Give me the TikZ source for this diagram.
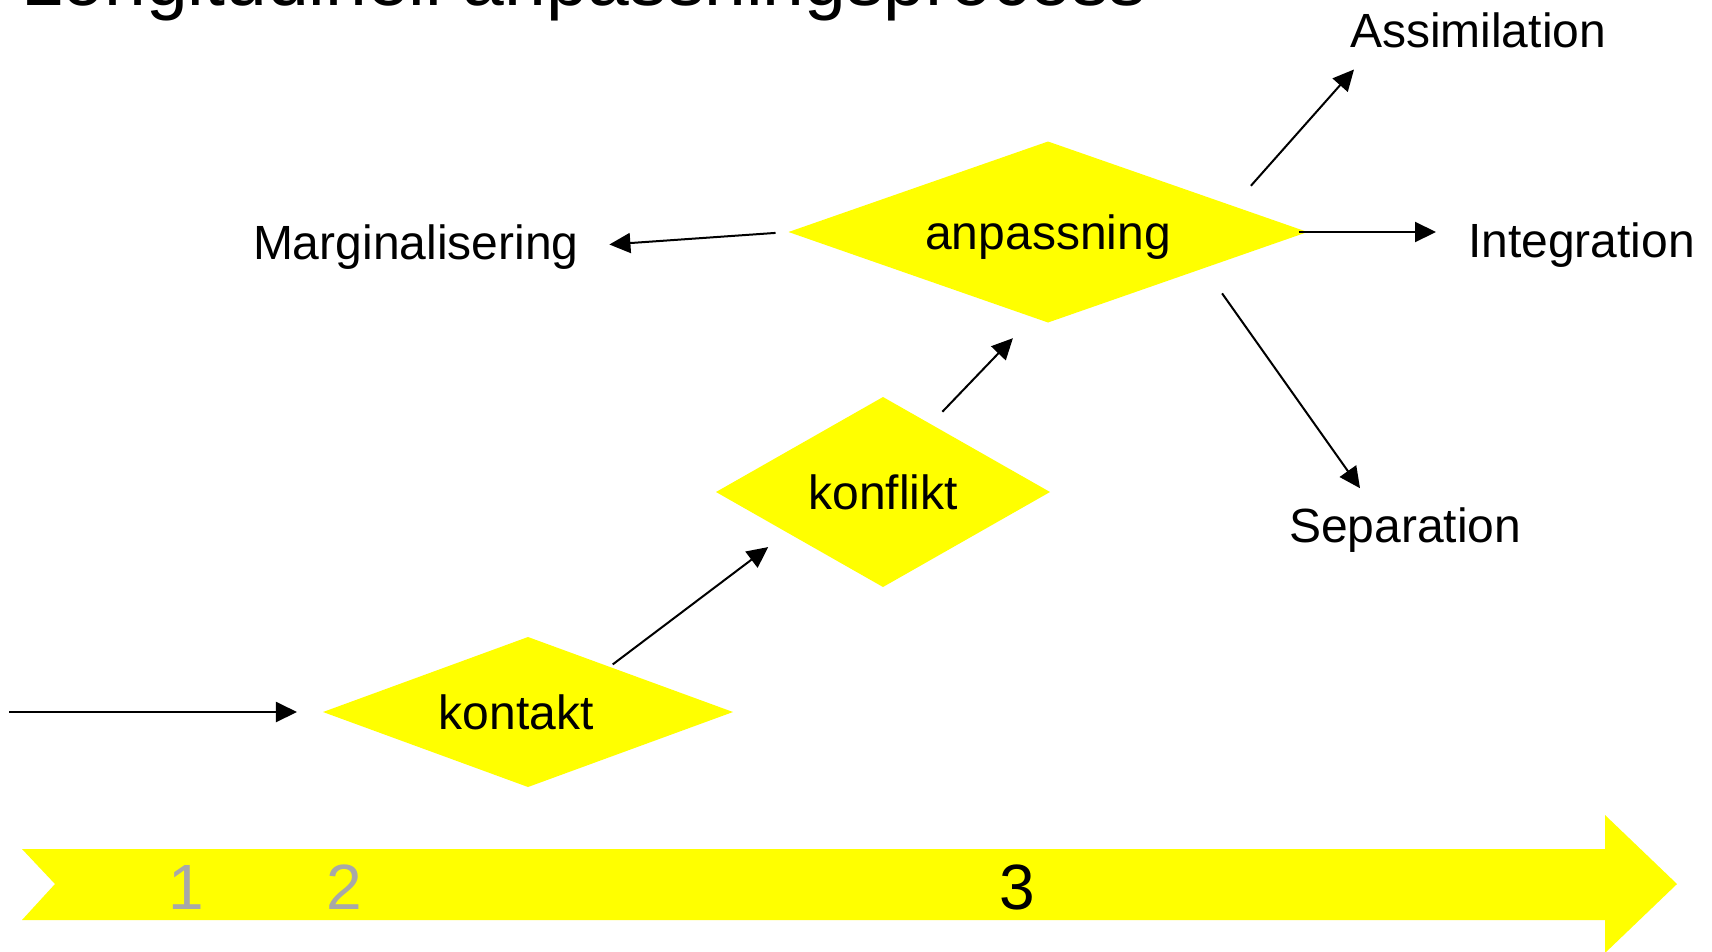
\documentclass[tikz,border=0pt]{standalone}
\usepackage{fontspec}
\setmainfont{Liberation Sans}
\usetikzlibrary{shapes.geometric,arrows.meta,calc}
\definecolor{digitgray}{RGB}{168,168,168}
\definecolor{stageyellow}{RGB}{255,255,0}
\begin{document}
\begin{tikzpicture}[x=1pt,y=-1pt,>={Triangle[length=21pt,width=20pt]},line width=2pt,
		stage/.style={diamond,fill=stageyellow,inner sep=0pt,outer sep=0pt,text depth=0pt,font=\fontsize{48}{56}\selectfont},
		outcome/.style={anchor=base west,inner sep=0pt,font=\fontsize{48}{56}\selectfont},
		phase/.style={anchor=base,inner sep=0pt,font=\fontsize{64}{70}\selectfont}]
			\useasboundingbox (0,0) rectangle (1712,951);
			\clip (0,0) rectangle (1712,951);
			\node [anchor=base west,inner sep=0pt,font=\fontsize{75}{80}\selectfont] (title) at (20,5) {Longitudinell anpassningsprocess};
			\fill [stageyellow] (22,849)--(1605,849)--(1605,815)--(1677,884)--(1605,953)--(1605,920)--(22,920)--(55,884)--cycle;
			\node [phase,text=digitgray] (one) at (186,909) {1};
			\node [phase,text=digitgray] (two) at (344,909) {2};
			\node [phase] (three) at (1017,909) {3};
			\node [stage,aspect=2.7,minimum width=410pt,minimum height=150pt] (kontakt) at (528,712) {kontakt\hspace*{24pt}};
			\node [stage,aspect=1.76,minimum width=334pt,minimum height=190pt] (konflikt) at (883,492) {konflikt};
			\node [stage,aspect=2.87,minimum width=519pt,minimum height=181pt] (anpassning) at (1048,232) {anpassning};
			\node [outcome] (margin) at (252,259) {Marginalisering};
			\node [outcome] (assim) at (1349,47) {Assimilation};
			\node [outcome] (integ) at (1467,257) {Integration};
			\node [outcome] (sep) at (1288,542) {Separation};
			\coordinate (entry) at (9,712);
			\draw [->,shorten >=26pt] (entry)--(kontakt);
			\draw [->,shorten <=4pt,shorten >=24pt] (kontakt.29)--(konflikt.203);
			\draw [->,shorten <=17pt,shorten >=29pt] (konflikt.55)--(anpassning.260);
			\draw [->,shorten <=13pt,shorten >=30pt] (anpassning.west)--(margin.east);
			\draw [->,shorten <=-9pt,shorten >=31pt] (anpassning.east)--(anpassning.east -| integ.west);
			\draw [->,shorten <=27pt] (anpassning.8)--($(assim.south west)+(5,21)$);
			\draw [->,shorten <=31pt] (anpassning.-13)--($(sep.north west)+(72,-18)$);
		\end{tikzpicture}
\end{document}
